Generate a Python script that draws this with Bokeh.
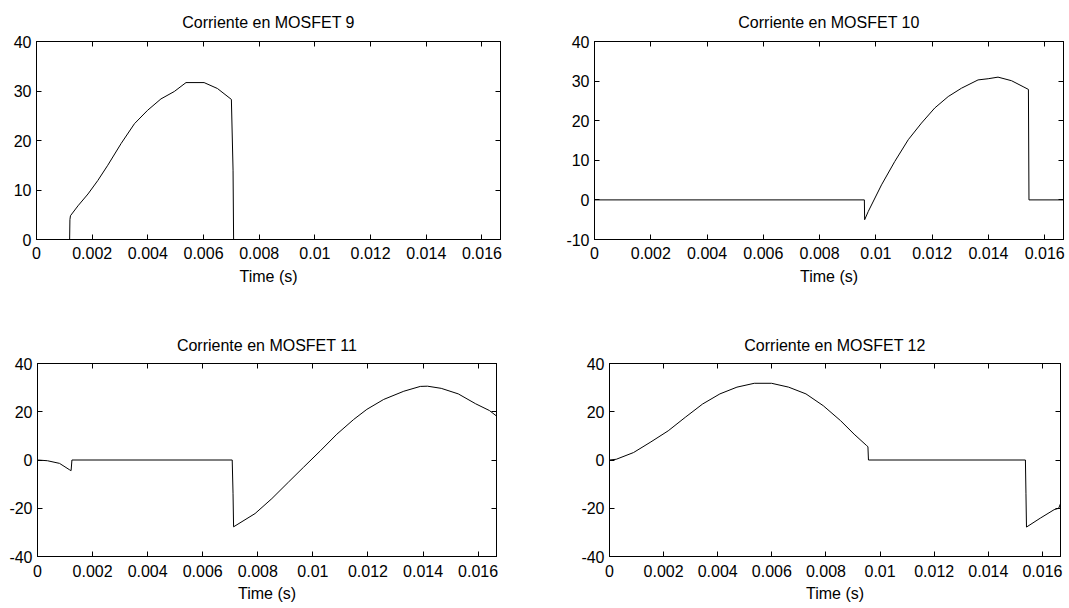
from bokeh.plotting import figure
from bokeh.models import Range1d, FixedTicker, LinearAxis
from bokeh.layouts import column, row
from bokeh.embed import file_html
from bokeh.resources import INLINE

# ---------------- data ----------------
x_ticks = [0, 0.002, 0.004, 0.006, 0.008, 0.01, 0.012, 0.014, 0.016]
x_tick_labels = ["0", "0.002", "0.004", "0.006", "0.008", "0.01", "0.012", "0.014", "0.016"]
x_max = 1 / 60

titles = ["Corriente en MOSFET 9", "Corriente en MOSFET 10",
          "Corriente en MOSFET 11", "Corriente en MOSFET 12"]
x_label = "Time (s)"

t9 = [0, 0.00119, 0.00120, 0.00122, 0.00149, 0.00185, 0.0022, 0.00256, 0.00304, 0.00352,
      0.00399, 0.00447, 0.00495, 0.00537, 0.00602, 0.0065, 0.0070, 0.00706, 0.00708, 0.01667]
i9 = [0, 0, 4.0, 4.8, 6.8, 9.2, 11.9, 15.0, 19.4, 23.4,
      26.1, 28.4, 29.9, 31.7, 31.7, 30.5, 28.3, 14.0, 0, 0]

t10 = [0, 0.00959, 0.00960, 0.00973, 0.0102, 0.01067, 0.01115, 0.01162, 0.01209, 0.01257,
       0.01304, 0.01363, 0.01399, 0.01434, 0.01482, 0.01523, 0.01542, 0.01544, 0.01667]
i10 = [0, 0, -5.0, -2.9, 3.8, 9.7, 15.2, 19.4, 23.2, 26.1,
       28.2, 30.3, 30.6, 31.0, 30.1, 28.6, 27.9, 0, 0]

t11 = [0, 0.00036, 0.0008, 0.00117, 0.00122, 0.00125, 0.00707, 0.00710, 0.00712, 0.0079,
       0.00851, 0.00911, 0.00966, 0.01027, 0.01087, 0.01148, 0.01196, 0.01257, 0.0133, 0.0139,
       0.01416, 0.01466, 0.01528, 0.01591, 0.01641, 0.01667]
i11 = [0, -0.3, -1.4, -4.1, -4.4, 0, 0, -14.0, -27.7, -22.2,
       -16.0, -9.2, -3.0, 3.8, 10.7, 16.8, 21.0, 25.1, 28.5, 30.5,
       30.6, 29.7, 27.4, 23.3, 20.5, 18.2]

t12 = [0, 0.00025, 0.00089, 0.00153, 0.00217, 0.0028, 0.00344, 0.00408, 0.00471, 0.00535,
       0.00599, 0.00662, 0.00726, 0.0079, 0.00854, 0.00904, 0.00949, 0.00955, 0.00957, 0.01537,
       0.01539, 0.01541, 0.01592, 0.01643, 0.01660, 0.01667]
i12 = [0, 0.3, 3.1, 7.5, 12.1, 17.7, 23.2, 27.4, 30.2, 31.8,
       31.8, 30.2, 27.4, 22.5, 16.3, 10.7, 6.1, 5.5, 0, 0,
       -14.0, -27.8, -24.1, -20.6, -20.0, -18.0]

y_ranges = [(0, 40), (-10, 40), (-40, 40), (-40, 40)]
y_ticks = [[0, 10, 20, 30, 40], [-10, 0, 10, 20, 30, 40],
           [-40, -20, 0, 20, 40], [-40, -20, 0, 20, 40]]
y_tick_labels = [["0", "10", "20", "30", "40"], ["-10", "0", "10", "20", "30", "40"],
                 ["-40", "-20", "0", "20", "40"], ["-40", "-20", "0", "20", "40"]]

FONT = "Liberation Sans"


def make(title, t, i, yr, yt, ytl, width, height, bl, br, bt, bb,
         title_standoff, tick_standoff, label_standoff):
    p = figure(width=width, height=height, output_backend="svg", toolbar_location=None,
               x_range=Range1d(0, x_max), y_range=Range1d(*yr),
               min_border_left=bl, min_border_right=br,
               min_border_top=bt, min_border_bottom=bb,
               background_fill_color="white", border_fill_color="white")
    p.title.text = title
    p.title.align = "center"
    p.title.text_font = FONT
    p.title.text_font_size = "16px"
    p.title.text_font_style = "normal"
    p.title.text_color = "black"
    p.title.standoff = title_standoff
    p.grid.visible = False
    p.outline_line_color = "black"
    p.outline_line_width = 1

    p.line(t, i, color="black", line_width=1)

    xa = p.xaxis[0]
    xa.ticker = FixedTicker(ticks=x_ticks)
    xa.major_label_overrides = {v: s for v, s in zip(x_ticks, x_tick_labels)}
    xa.axis_label = x_label
    xa.axis_label_text_font = FONT
    xa.axis_label_text_font_size = "16px"
    xa.axis_label_text_font_style = "normal"
    xa.axis_label_text_color = "black"
    xa.axis_label_standoff = label_standoff
    xa.major_label_standoff = tick_standoff
    ya = p.yaxis[0]
    ya.ticker = FixedTicker(ticks=yt)
    ya.major_label_overrides = {v: s for v, s in zip(yt, ytl)}
    ya.major_label_standoff = 5
    for ax in (xa, ya):
        ax.major_label_text_font = FONT
        ax.major_label_text_font_size = "16px"
        ax.major_label_text_color = "black"
        ax.major_tick_in = 5
        ax.major_tick_out = 0
        ax.minor_tick_line_color = None
        ax.axis_line_color = "black"
        ax.major_tick_line_color = "black"

    top = LinearAxis(ticker=FixedTicker(ticks=x_ticks), major_label_text_font_size="0px",
                     major_label_text_color=None,
                     major_label_standoff=0, major_tick_in=5, major_tick_out=0,
                     minor_tick_line_color=None, axis_line_color="black")
    right = LinearAxis(ticker=FixedTicker(ticks=yt), major_label_text_font_size="0px",
                       major_label_text_color=None,
                       major_label_standoff=0, major_tick_in=5, major_tick_out=0,
                       minor_tick_line_color=None, axis_line_color="black")
    p.add_layout(top, "above")
    p.add_layout(right, "right")
    return p


# page has no margin: frames placed at reference pixel positions
p1 = make(titles[0], t9, i9, y_ranges[0], y_ticks[0], y_tick_labels[0],
          548, 308, 36, 48, 41, 69, 21, 7, 6)
p2 = make(titles[1], t10, i10, y_ranges[1], y_ticks[1], y_tick_labels[1],
          521, 308, 46, 6, 41, 69, 21, 7, 6)
p3 = make(titles[2], t11, i11, y_ranges[2], y_ticks[2], y_tick_labels[2],
          548, 300, 37, 52, 55, 52, 19, 8, 5)
p4 = make(titles[3], t12, i12, y_ranges[3], y_ticks[3], y_tick_labels[3],
          521, 300, 61, 9, 55, 52, 19, 8, 5)

layout = column(row(p1, p2), row(p3, p4))

open("out.html", "w").write(file_html(layout, INLINE))
